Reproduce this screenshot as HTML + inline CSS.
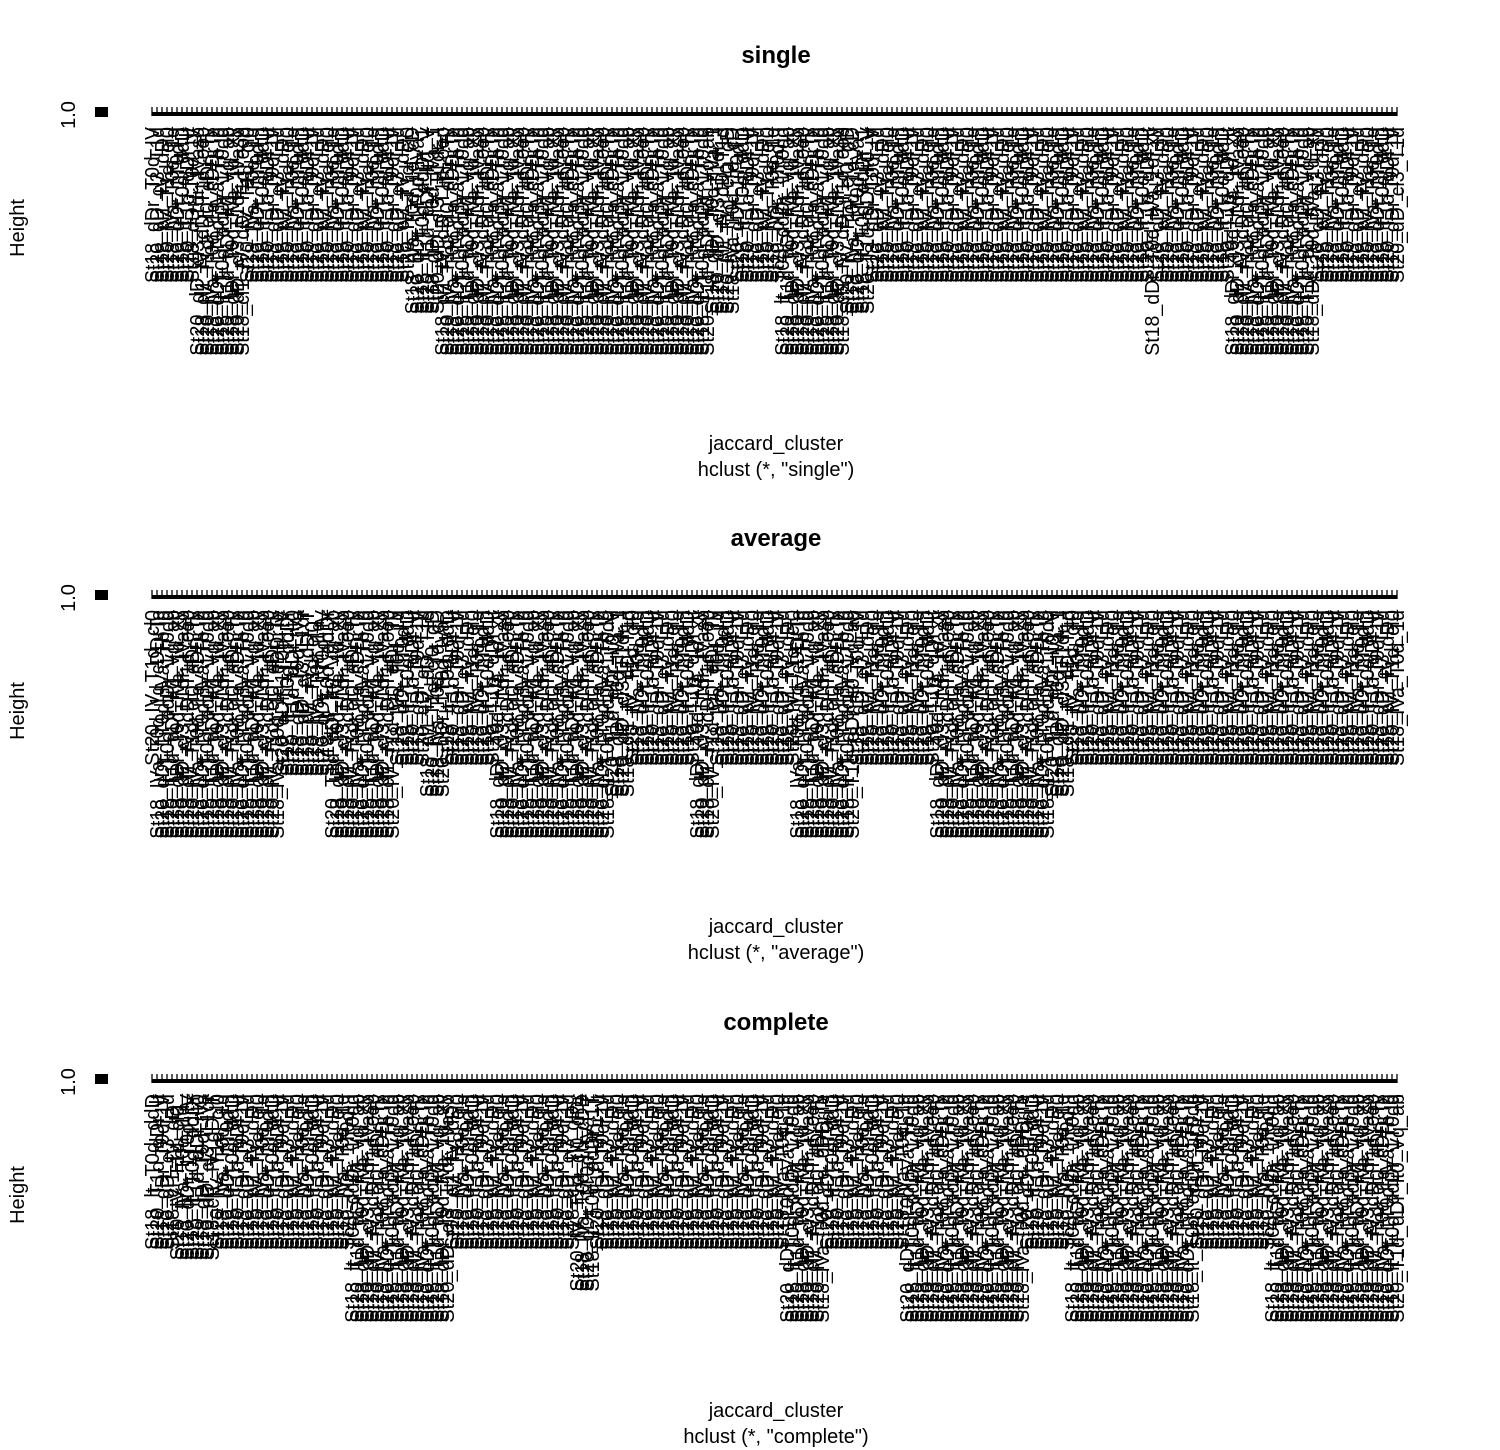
<!DOCTYPE html>
<html><head><meta charset="utf-8">
<style>
html,body{margin:0;padding:0;background:#fff;}
svg{display:block;font-family:"Liberation Sans",sans-serif;}
</style></head>
<body>
<svg id="chart" width="1500" height="1450" viewBox="0 0 1500 1450" xmlns="http://www.w3.org/2000/svg"></svg>
<script>
// Panel titles / methods
const panelTitles = ["single", "average", "complete"];
// Segments of leaves: [leaf count, label length in characters]
const singleSegments = [[9,15],[10,22],[33,15],[6,18],[54,22],[5,18],[9,15],[13,22],[5,18],[56,15],[1,22],[3,15],[12,15],[17,22],[17,15]];
const averageSegments = [[1,15],[25,22],[10,16],[13,22],[6,15],[4,18],[10,15],[23,22],[4,18],[13,15],[4,22],[16,15],[12,22],[16,15],[23,22],[4,18],[66,15]];
const completeSegments = [[5,15],[8,16],[27,15],[20,22],[25,15],[4,19],[38,15],[8,22],[16,15],[24,22],[9,15],[25,22],[15,15],[26,22]];
const yTickLabels = ["1.0"];
const labelBases = [
  "St18_dDr_T0d_IVa_1d_xyz",
  "St20_IV_T1d_cl0_dDr_Ty",
  "St18_lt_T0d_ddDr_1T0dq",
  "St20_dD_cl3_T1dr_IVaso",
  "St18_IVa_T0d_1d_cDDrTe",
  "St20_T1d_dDr_lt0_Vq_ab",
  "St18_cl1_IV_dD_T1d_oop",
  "St20_dDr_1T0d_IVa_Tb_g"
];

const svg = document.getElementById('chart');
const NS = "http://www.w3.org/2000/svg";
function mk(tag, attrs){ const e=document.createElementNS(NS,tag); for(const k in attrs) e.setAttribute(k,attrs[k]); return e; }

const allSegments = [singleSegments, averageSegments, completeSegments];
const panelOffsets = [0, 483, 967];
const xLeft = 152, xRight = 1397;
const charPx = 10.4;

allSegments.forEach((segs, p) => {
  const oy = panelOffsets[p];
  const g = mk('g', {});
  
  
  svg.appendChild(g);

  const title = mk('text', {x:776, y:oy+63, 'text-anchor':'middle', 'font-size':24, 'font-weight':'bold'});
  title.textContent = panelTitles[p];
  
  
  g.appendChild(title);

  const yl = mk('text', {x:0, y:0, 'text-anchor':'middle', 'font-size':20, transform:`translate(24,${oy+228}) rotate(-90)`});
  yl.textContent = "Height";
  
  
  g.appendChild(yl);

  const yt = mk('text', {x:0, y:0, 'text-anchor':'middle', 'font-size':20, transform:`translate(75,${oy+115}) rotate(-90)`});
  yt.textContent = yTickLabels[0];
  
  
  g.appendChild(yt);

  const sq = mk('rect', {x:95, y:oy+107, width:13, height:10, fill:'#000'});
  
  
  g.appendChild(sq);

  const xl = mk('text', {x:776, y:oy+450, 'text-anchor':'middle', 'font-size':20});
  xl.textContent = "jaccard_cluster";
  
  
  g.appendChild(xl);
  const sub = mk('text', {x:776, y:oy+476, 'text-anchor':'middle', 'font-size':20});
  sub.textContent = 'hclust (*, "' + panelTitles[p] + '")';
  
  
  g.appendChild(sub);

  const n = segs.reduce((a,s)=>a+s[0],0);
  const pitch = (xRight - xLeft)/(n-1);
  const top = oy + 107;
  const bar = mk('rect', {x:xLeft, y:top+5, width:xRight-xLeft, height:4, fill:'#000'});
  
  
  g.appendChild(bar);

  const labTop = oy + 127;
  let i = 0;
  segs.forEach(([cnt, chars]) => {
    for (let k=0;k<cnt;k++){
      const x = xLeft + i*pitch;
      const br = mk('line', {x1:x, y1:top, x2:x, y2:top+9, stroke:'#000', 'stroke-width':1.3});
      
      
      g.appendChild(br);
      const base = labelBases[(i*3 + p) % labelBases.length];
      const t = mk('text', {x:0, y:0, 'text-anchor':'end', 'font-size':20,
        textLength:(chars*charPx).toFixed(1), lengthAdjust:'spacingAndGlyphs',
        transform:`translate(${(x+7).toFixed(1)},${labTop}) rotate(-90)`});
      t.textContent = base.slice(0, chars);
      
      
      g.appendChild(t);
      i++;
    }
  });
});
</script>
</body></html>
